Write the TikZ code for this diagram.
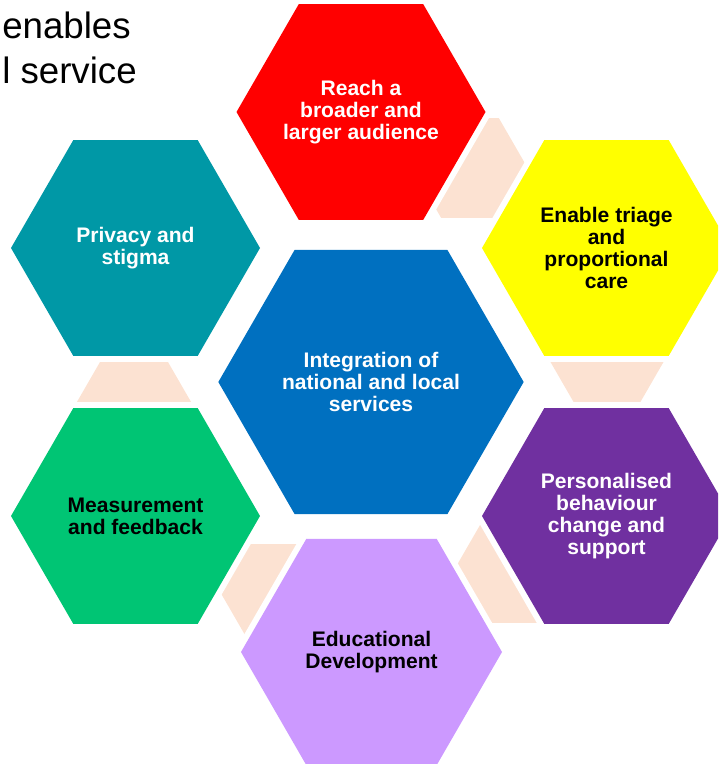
\documentclass[tikz,border=0pt]{standalone}
\usepackage{fontspec}
\setmainfont{Liberation Sans}
\usetikzlibrary{shapes.geometric}

\definecolor{reachred}{HTML}{FF0000}
\definecolor{triageyellow}{HTML}{FFFF00}
\definecolor{privacyteal}{HTML}{0098A6}
\definecolor{hubblue}{HTML}{0070C0}
\definecolor{measuregreen}{HTML}{00C574}
\definecolor{supportpurple}{HTML}{7030A0}
\definecolor{edulilac}{HTML}{CC99FF}
\definecolor{linkpeach}{HTML}{FCE2D2}

\begin{document}
\begin{tikzpicture}[x=0.75pt,y=-0.75pt,
  hexbox/.style={regular polygon,regular polygon sides=6,minimum size=186.75pt,inner sep=-12pt,
    align=center,font=\bfseries\fontsize{15.8}{16.6}\selectfont,
    preaction={draw=white,line width=9pt}},
  peach/.style={regular polygon,regular polygon sides=6,minimum size=86.5pt,inner sep=0pt,fill=linkpeach}]
\useasboundingbox (0,0) rectangle (718,764);
\clip (0,0) rectangle (718,764);

% title fragments
\node[anchor=base west,inner sep=0pt,font=\fontsize{27.5}{33}\selectfont] (ttlA) at (2,38) {enables};
\node[anchor=base west,inner sep=0pt,font=\fontsize{27.5}{33}\selectfont] (ttlB) at (2,83) {l service};

% small link hexagons, behind
\node[peach] (lnkRY) at (470,168) {};
\node[peach] (lnkYP) at (607,360) {};
\node[peach] (lnkPE) at (510,573) {};
\node[peach] (lnkEM) at (279,594) {};
\node[peach] (lnkMT) at (134,403) {};

% outer ring
\node[hexbox,fill=reachred,text=white] (reach) at (361,112) {Reach a\\broader and\\larger audience};
\node[hexbox,fill=triageyellow] (triage) at (606.5,248) {Enable triage\\and\\proportional\\care};
\node[hexbox,fill=supportpurple,text=white] (support) at (606.5,516) {Personalised\\behaviour\\change and\\support};
\node[hexbox,fill=edulilac,minimum size=195.75pt] (edu) at (371.5,652) {Educational\\Development};
\node[hexbox,fill=measuregreen] (measure) at (135.5,516) {Measurement\\and feedback};
\node[hexbox,fill=privacyteal,text=white] (privacy) at (135.5,248) {Privacy and\\stigma};

% hub
\node[hexbox,fill=hubblue,text=white,minimum size=229pt] (hub) at (371,382) {Integration of\\national and local\\services};
\end{tikzpicture}
\end{document}
